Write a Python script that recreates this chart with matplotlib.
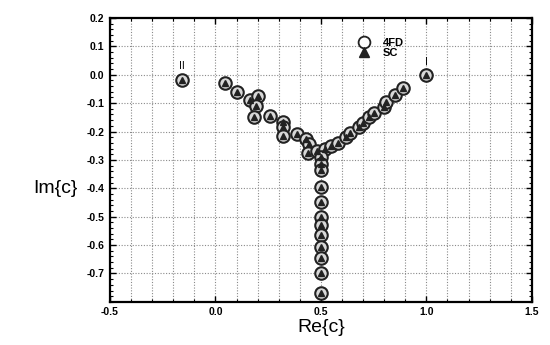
import matplotlib
matplotlib.use("Agg")
import matplotlib.pyplot as plt
from matplotlib.ticker import MultipleLocator, FixedLocator
from matplotlib.lines import Line2D

plt.rcParams['font.family'] = ['Liberation Sans', 'DejaVu Sans']

# Eigenvalue spectrum c = Re{c} + i Im{c}
fd_re = [-0.16, 0.045, 0.10, 0.165, 0.20, 0.19, 0.185, 0.26, 0.32, 0.32, 0.32,
         0.385, 0.43, 0.445, 0.44, 0.48, 0.52,
         0.55, 0.58, 0.62, 0.64, 0.68, 0.70, 0.73, 0.75, 0.80, 0.81, 0.85, 0.89, 1.0,
         0.50, 0.50, 0.50, 0.50, 0.50, 0.50, 0.50, 0.50, 0.50, 0.50, 0.50, 0.50]
fd_im = [-0.02, -0.03, -0.06, -0.09, -0.075, -0.11, -0.15, -0.145, -0.165, -0.185, -0.215,
         -0.21, -0.225, -0.245, -0.275, -0.27, -0.26,
         -0.25, -0.24, -0.22, -0.205, -0.185, -0.17, -0.15, -0.135, -0.115, -0.095, -0.07, -0.045, 0.0,
         -0.29, -0.315, -0.335, -0.395, -0.45, -0.50, -0.53, -0.565, -0.605, -0.645, -0.70, -0.77]

sc_re = [-0.16, 0.045, 0.10, 0.165, 0.20, 0.19, 0.185, 0.26, 0.32, 0.32, 0.32,
         0.385, 0.43, 0.445, 0.44, 0.48, 0.52,
         0.55, 0.58, 0.62, 0.64, 0.68, 0.70, 0.73, 0.75, 0.80, 0.81, 0.85, 0.89, 1.0,
         0.50, 0.50, 0.50, 0.50, 0.50, 0.50, 0.50, 0.50, 0.50, 0.50, 0.50, 0.50]
sc_im = [-0.02, -0.03, -0.06, -0.09, -0.075, -0.11, -0.15, -0.145, -0.165, -0.185, -0.215,
         -0.21, -0.225, -0.245, -0.275, -0.27, -0.26,
         -0.25, -0.24, -0.22, -0.205, -0.185, -0.17, -0.15, -0.135, -0.115, -0.095, -0.07, -0.045, 0.0,
         -0.29, -0.315, -0.335, -0.395, -0.45, -0.50, -0.53, -0.565, -0.605, -0.645, -0.70, -0.77]

x_ticks = [-0.5, 0.0, 0.5, 1.0, 1.5]
y_ticks = [-0.7, -0.6, -0.5, -0.4, -0.3, -0.2, -0.1, 0.0, 0.1, 0.2]

# Mode labels: (text, Re, Im)
mode_labels = [("II", -0.16, 0.03), ("I", 1.0, 0.045)]

fig = plt.figure(figsize=(5.5, 3.45), dpi=100)
fig.patch.set_facecolor("white")
ax = fig.add_axes([0.2, 0.125, 0.767, 0.823])

ax.set_xlim(-0.5, 1.5)
ax.set_ylim(-0.8, 0.2)

ax.xaxis.set_major_locator(FixedLocator(x_ticks))
ax.xaxis.set_minor_locator(MultipleLocator(0.1))
ax.yaxis.set_major_locator(FixedLocator(y_ticks))
ax.yaxis.set_minor_locator(MultipleLocator(0.02))
ax.set_xticklabels([f"{v:.1f}" for v in x_ticks])
ax.set_yticklabels([f"{v:.1f}" for v in y_ticks])

ax.tick_params(axis="both", which="both", direction="in", top=True, right=True)
ax.tick_params(which="major", length=4, width=1.0, labelsize=7.5, pad=4)
ax.tick_params(which="minor", length=2.5, width=0.8)
for lab in ax.get_xticklabels() + ax.get_yticklabels():
    lab.set_fontweight("bold")

# Dotted grid every 0.1 in both directions
for xv in [i / 10 for i in range(-4, 15)]:
    ax.axvline(xv, color="#8a8a8a", linestyle=(0, (1, 1.5)), linewidth=0.8, zorder=0)
for yv in [i / 10 for i in range(-7, 2)]:
    ax.axhline(yv, color="#8a8a8a", linestyle=(0, (1, 1.5)), linewidth=0.8, zorder=0)

for sp in ax.spines.values():
    sp.set_linewidth(1.6)

ax.plot(fd_re, fd_im, linestyle="none", marker="o", markersize=9,
        markerfacecolor="#d8d8d8", markeredgecolor="#222222", markeredgewidth=1.5,
        zorder=3)
ax.plot(sc_re, sc_im, linestyle="none", marker="^", markersize=4.8,
        markerfacecolor="#222222", markeredgecolor="#222222", zorder=4)

for txt, xv, yv in mode_labels:
    ax.text(xv, yv, txt, ha="center", va="center", fontsize=7.5)

handles = [
    Line2D([], [], linestyle="none", marker="o", markersize=8.5,
           markerfacecolor="white", markeredgecolor="#222222", markeredgewidth=1.3),
    Line2D([], [], linestyle="none", marker="^", markersize=6.5,
           markerfacecolor="#222222", markeredgecolor="#222222"),
]
leg = ax.legend(handles, ["4FD", "SC"], loc="upper left",
                bbox_to_anchor=(0.575, 0.948), frameon=False, fontsize=8,
                handlelength=1.0, handletextpad=1.2, labelspacing=0.0,
                borderpad=0.0)
for t in leg.get_texts():
    t.set_fontweight("bold")

ax.set_xlabel("Re{c}", fontsize=14, labelpad=1)
ax.set_ylabel("Im{c}", fontsize=14, rotation=0, labelpad=4)
ax.yaxis.set_label_coords(-0.13, 0.37)

fig.savefig("out.png", dpi=100, facecolor="white")
